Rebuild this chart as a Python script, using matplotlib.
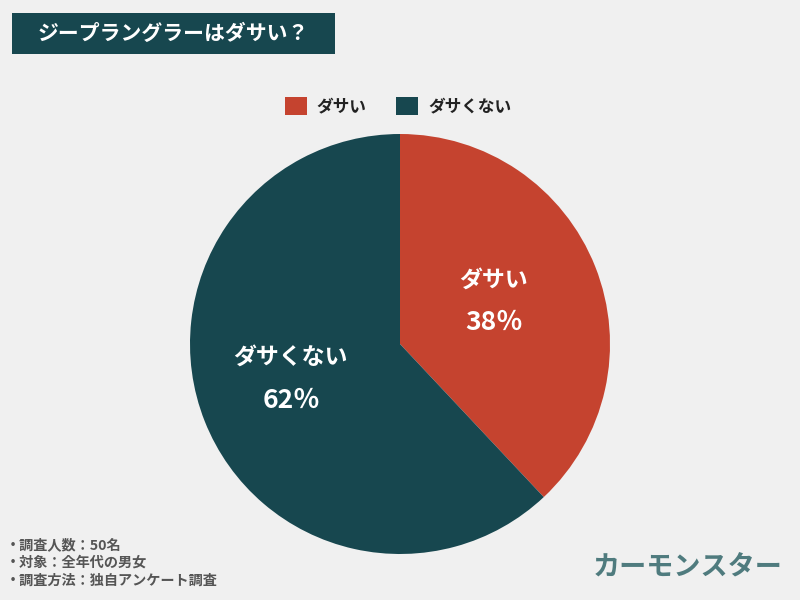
import matplotlib

matplotlib.use("Agg")
import matplotlib.pyplot as plt
from matplotlib.patches import Patch, Rectangle

plt.rcParams["font.family"] = ["Noto Sans CJK JP", "DejaVu Sans"]

TITLE = "ジープラングラーはダサい？"
labels = ["ダサい", "ダサくない"]
shares = [38, 62]
colors = ["#c5432f", "#17474f"]
notes = ["・調査人数：50名", "・対象：全年代の男女", "・調査方法：独自アンケート調査"]
BRAND = "カーモンスター"
BG = "#f0f0f0"

W, H = 800, 600


def fx(px):
    return px / W


def fy(py):
    return 1 - py / H


fig = plt.figure(figsize=(8, 6), dpi=100, facecolor=BG)

# title box
fig.patches.append(Rectangle((fx(12), fy(54)), fx(323), 41 / H, transform=fig.transFigure,
                             facecolor="#17474f", edgecolor="none"))
fig.text(fx(173), fy(33), TITLE, color="white", fontsize=15, fontweight="bold",
         ha="center", va="center")

# pie
ax = fig.add_axes([fx(190), fy(554), 420 / W, 420 / H])
ax.set_facecolor(BG)
ax.pie(shares, colors=colors, startangle=90, counterclock=False, radius=1,
       wedgeprops=dict(linewidth=0))
ax.set_xlim(-1, 1)
ax.set_ylim(-1, 1)
ax.set_aspect("equal")
ax.axis("off")

# in-slice labels (pixel positions of text centres)
label_pos = [(493, 280, 322), (290, 357, 400)]
for lab, val, (x, y1, y2) in zip(labels, shares, label_pos):
    fig.text(fx(x), fy(y1), lab, color="white", fontsize=16.5, fontweight="bold",
             ha="center", va="center")
    fig.text(fx(x + 1), fy(y2), f"{val}％", color="white", fontsize=19, fontweight="bold",
             ha="center", va="center")

# legend
handles = [Patch(facecolor=c, edgecolor="none", label=l) for c, l in zip(colors, labels)]
fig.legend(handles=handles, loc="center", bbox_to_anchor=(fx(398), fy(106)), ncol=2,
           frameon=False, handlelength=1.3, handleheight=1.3,
           handletextpad=0.6, columnspacing=1.8, labelcolor="#222222",
           prop=dict(family=["Noto Sans CJK JP", "DejaVu Sans"], size=12, weight="bold"))

# footnotes
for i, n in enumerate(notes):
    fig.text(fx(6), fy(545 + 18 * i), n, color="#555555", fontsize=10.2, fontweight="bold",
             ha="left", va="center")

fig.text(fx(688), fy(568), BRAND, color="#4f7b7e", fontsize=19.5, fontweight="bold",
         ha="center", va="center")

fig.savefig("out.png", dpi=100, facecolor=BG)
